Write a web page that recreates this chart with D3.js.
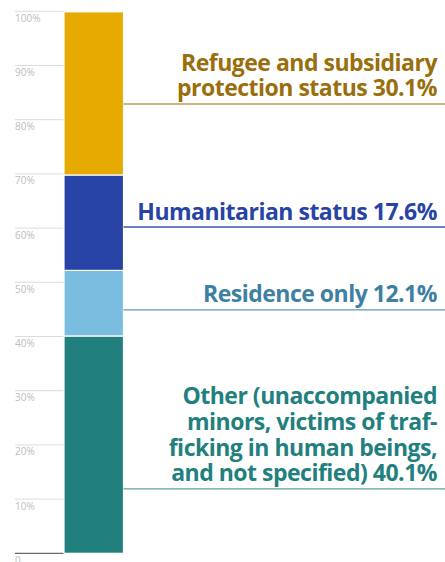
<!DOCTYPE html>
<html>
<head>
<meta charset="utf-8">
<script src="https://cdn.jsdelivr.net/npm/d3@7"></script>
<style>
  body { margin: 0; background: #fff; }
  svg { display: block; }
</style>
</head>
<body>
<script>
// shares of the stacked bar, bottom to top
const categories = ["Other", "Residence only", "Humanitarian status", "Refugee and subsidiary protection status"];
const shares = [40.1, 12.1, 17.6, 30.1];
const labelLines = [
  ["Other (unaccompanied", "minors, victims of traf-", "ficking in human beings,", "and not specified) 40.1%"],
  ["Residence only 12.1%"],
  ["Humanitarian status 17.6%"],
  ["Refugee and subsidiary", "protection status 30.1%"]
];
// where each leader line meets the bar, in percent
const leaderAt = [11.9, 44.9, 60.2, 82.9];
const tickValues = [0, 10, 20, 30, 40, 50, 60, 70, 80, 90, 100];

const barColors = ["#21807e", "#7bbde0", "#2743a5", "#e6aa00"];
const textColors = ["#21807e", "#3e80a2", "#2743a5", "#9a6e0c"];
const lineColors = ["#5aa3a0", "#5d98b8", "#3d56ad", "#b99a52"];

const W = 445, H = 562;
const svg = d3.select("body").append("svg").attr("width", W).attr("height", H);

const y = d3.scaleLinear().domain([0, 100]).range([553.3, 11.3]);
const x0 = 15, barX = 64, barW = 59.5;

// gridlines and tick labels
svg.selectAll("line.grid")
  .data(tickValues)
  .enter()
  .append("line")
  .attr("class", "grid")
  .attr("x1", x0)
  .attr("x2", barX)
  .attr("y1", d => y(d))
  .attr("y2", d => y(d))
  .style("stroke", d => d === 0 ? "#444" : "#dcdcdc")
  .style("stroke-width", "1px");

svg.selectAll("text.tick")
  .data(tickValues)
  .enter()
  .append("text")
  .attr("class", "tick")
  .attr("x", x0)
  .attr("y", d => y(d) + 10.5)
  .text(d => d === 0 ? "0" : d + "%")
  .style("font-family", "'Open Sans', sans-serif")
  .style("font-size", "10px")
  .style("fill", "#bdbdbd");

// stacked segments
const stack = [];
let acc = 0;
shares.forEach((s, i) => { stack.push({ i: i, lo: acc, hi: acc + s }); acc += s; });

svg.selectAll("rect.seg")
  .data(stack)
  .enter()
  .append("rect")
  .attr("class", "seg")
  .attr("x", barX)
  .attr("width", barW)
  .attr("y", d => y(Math.min(d.hi, 100)))
  .attr("height", d => y(d.lo) - y(Math.min(d.hi, 100)))
  .style("fill", d => barColors[d.i])
  .style("stroke", "#fff")
  .style("stroke-width", "1.2px");

// leader lines and labels
const labels = svg.selectAll("g.label")
  .data(stack)
  .enter()
  .append("g")
  .attr("class", "label")
  .attr("transform", d => "translate(0," + y(leaderAt[d.i]) + ")");

labels.append("line")
  .attr("x1", barX + barW)
  .attr("x2", W)
  .attr("y1", 0)
  .attr("y2", 0)
  .style("stroke", d => lineColors[d.i])
  .style("stroke-width", "1.3px");

const lineH = 25.8;
labels.append("text")
  .attr("text-anchor", "end")
  .style("font-family", "'Open Sans', sans-serif")
  .style("font-weight", "700")
  .style("font-size", "23px")
  .style("letter-spacing", "-0.5px")
  .style("fill", d => textColors[d.i])
  .each(function(d) {
    const lines = labelLines[d.i];
    const n = lines.length;
    d3.select(this).selectAll("tspan")
      .data(lines)
      .enter()
      .append("tspan")
      .attr("x", 437)
      .attr("y", (t, k) => -7.5 - (n - 1 - k) * lineH)
      .text(t => t);
  });
</script>
</body>
</html>
